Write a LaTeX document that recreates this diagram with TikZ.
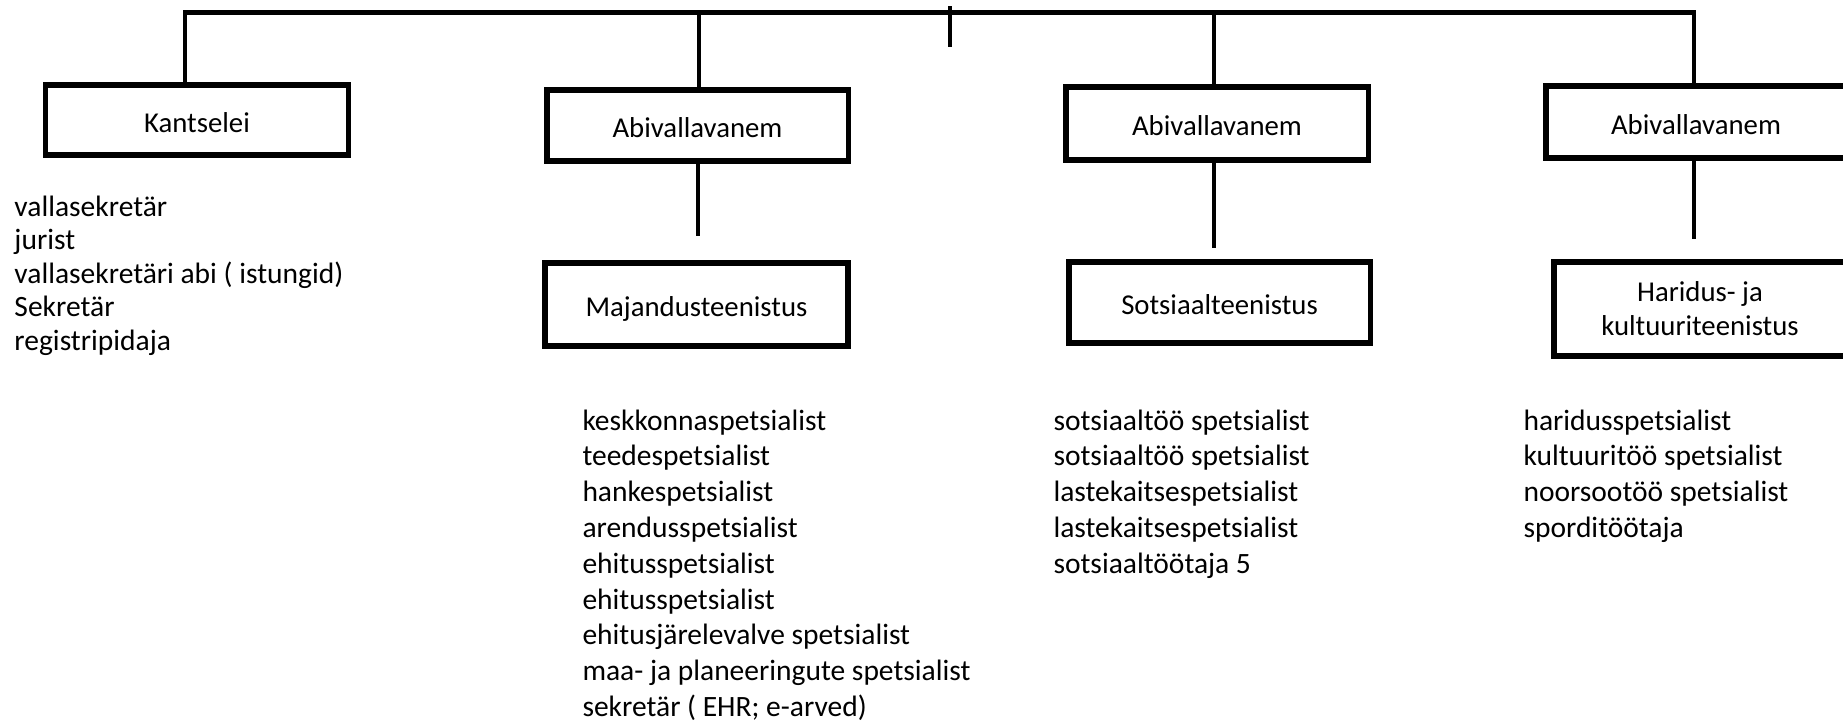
\documentclass[tikz,border=0pt]{standalone}
\usepackage{fontspec}
\setmainfont{Carlito}
\begin{document}
\begin{tikzpicture}[x=0.4pt,y=-0.4pt,
  txt/.style={font=\fontsize{11.5pt}{13.6pt}\selectfont},
  ltxt/.style={font=\fontsize{11.8pt}{14pt}\selectfont},
  box/.style={txt, draw, line width=2.2pt, rectangle, inner sep=0pt, text height=11pt, text depth=1.2pt},
  box2/.style={txt, draw, line width=2.2pt, rectangle, inner sep=0pt, align=center},
  conn/.style={line width=1.9pt},
  item/.style={ltxt, anchor=base west, inner sep=0pt}]
\useasboundingbox (0,0) rectangle (1843,723);
\clip (0,0) rectangle (1843,723);

% boxes
\node[box, minimum width=121pt, minimum height=28pt] (kan) at (197,120) {Kantselei};
\node[box, minimum width=120.6pt, minimum height=28.4pt] (a1) at (697.5,125.5) {Abivallavanem};
\node[box, minimum width=121.2pt, minimum height=33.2pt] (maj) at (696.5,304.5) {Majandusteenistus};
\node[box, minimum width=121pt, minimum height=29.2pt] (a2) at (1217,123.5) {Abivallavanem};
\node[box, minimum width=120.6pt, minimum height=32.4pt] (sot) at (1219.5,302.5) {Sotsiaalteenistus};
\node[box, minimum width=120.2pt, minimum height=28.8pt] (a3) at (1696,122) {Abivallavanem};
\node[box2, minimum width=117pt, minimum height=37.6pt] (har) at (1700,309) {Haridus- ja\\kultuuriteenistus};

% top connectors
\coordinate (kbar) at (185,12.5);
\coordinate (a1bar) at (699,12.5);
\coordinate (a2bar) at (1214,12.5);
\coordinate (a3bar) at (1694,12.5);
\coordinate (tk1) at (950,6);
\coordinate (tk2) at (950,47);
\draw[conn] (kbar |- kan.north) -- (kbar) -- (a3bar) -- (a3bar |- a3.north);
\draw[conn] (a1bar) -- (a1bar |- a1.north);
\draw[conn] (a2bar) -- (a2bar |- a2.north);
\draw[conn] (tk1) -- (tk2);

% lower connectors (free ends)
\coordinate (m1) at (698,236);
\coordinate (s1) at (1214,248);
\coordinate (h1) at (1694,239);
\draw[conn] ([yshift=2pt]m1 |- a1.south) -- (m1);
\draw[conn] (s1 |- a2.south) -- (s1);
\draw[conn] ([yshift=2pt]h1 |- a3.south) -- (h1);

% lists
\foreach \t [count=\i from 0] in {vallasekretär, jurist, vallasekretäri abi ( istungid), Sekretär, registripidaja}
  \node[item] (lk\i) at (14,{216+33.5*\i}) {\t};
\foreach \t [count=\i from 0] in {keskkonnaspetsialist, teedespetsialist, hankespetsialist, arendusspetsialist, ehitusspetsialist, ehitusspetsialist, ehitusjärelevalve spetsialist, maa- ja planeeringute spetsialist, sekretär ( EHR; e-arved)}
  \node[item] (lm\i) at (582,{430+35.8*\i}) {\t};
\foreach \t [count=\i from 0] in {sotsiaaltöö spetsialist, sotsiaaltöö spetsialist, lastekaitsespetsialist, lastekaitsespetsialist, sotsiaaltöötaja 5}
  \node[item] (ls\i) at (1053,{430+35.8*\i}) {\t};
\foreach \t [count=\i from 0] in {haridusspetsialist, kultuuritöö spetsialist, noorsootöö spetsialist, sporditöötaja}
  \node[item] (lh\i) at (1523,{430+35.8*\i}) {\t};
\end{tikzpicture}
\end{document}
